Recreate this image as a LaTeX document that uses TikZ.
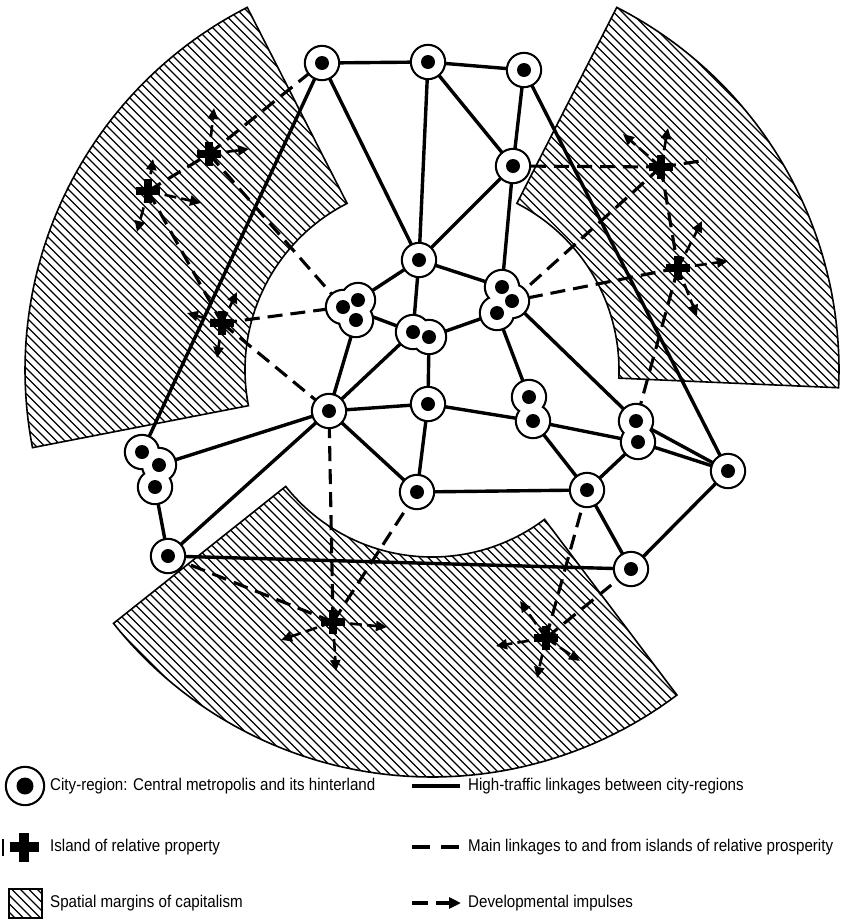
\documentclass[tikz,border=0pt]{standalone}
\usepackage{fontspec}
\setmainfont{Liberation Sans}[FakeStretch=0.89]
\usetikzlibrary{arrows.meta}
\begin{document}
\begin{tikzpicture}[x=1pt,y=-1pt,
  solidlink/.style={line width=3.4pt},
  dashlink/.style={line width=3.1pt,dash pattern=on 15pt off 8pt},
  impulse/.style={line width=2.6pt,dash pattern=on 12pt off 5pt,-{Triangle[length=11pt,width=10pt]}},
  rim/.style={line width=1.6pt},
  hatchline/.style={line width=1.1pt},
  cityring/.style={line width=4.4pt},
  legtext/.style={anchor=west,inner sep=0pt,font=\fontsize{17}{20}\selectfont},
  plussign/.pic={\fill (-12,-4.2) rectangle (12,4.2); \fill (-4.2,-12) rectangle (4.2,12);},
  bigplus/.pic={\fill (-14.5,-5.2) rectangle (14.5,5.2); \fill (-5.2,-14.5) rectangle (5.2,14.5);}
]
\fill[white] (0,0) rectangle (841,919);
\useasboundingbox (0,0) rectangle (841,919);

% ---------- spatial margins (annular sectors) ----------
\foreach \a/\b in {117/191,-2.5/63,218.5/307}{
  \begin{scope}
    \clip plot[domain=\a:\b,samples=60] ({432+407*cos(\x)},{370-407*sin(\x)})
      -- plot[domain=\b:\a,samples=60] ({432+187*cos(\x)},{370-187*sin(\x)}) -- cycle;
    \foreach \c in {-920,-911.5,...,850}
      \draw[hatchline] (\c,0) -- ({\c+919},919);
  \end{scope}
  \draw[rim,line join=miter] plot[domain=\a:\b,samples=60] ({432+407*cos(\x)},{370-407*sin(\x)})
      -- plot[domain=\b:\a,samples=60] ({432+187*cos(\x)},{370-187*sin(\x)}) -- cycle;
}

% ---------- city-regions ----------
\coordinate (A) at (322,63);
\coordinate (B) at (428,62);
\coordinate (C) at (524,70);
\coordinate (D) at (513,166);
\coordinate (E) at (419,260);
\coordinate (F1) at (343,307);
\coordinate (F2) at (358,300);
\coordinate (F3) at (356,320);
\coordinate (F) at (352,309);
\coordinate (G1) at (413,332);
\coordinate (G2) at (429,337);
\coordinate (H1) at (502,287);
\coordinate (H2) at (512,301);
\coordinate (H3) at (497,313);
\coordinate (I) at (329,411);
\coordinate (J) at (428,404);
\coordinate (K1) at (529,397);
\coordinate (K2) at (533,421);
\coordinate (L) at (417,492);
\coordinate (M) at (587,490);
\coordinate (N1) at (636,421);
\coordinate (N2) at (638,442);
\coordinate (O) at (728,471);
\coordinate (P) at (631,569);
\coordinate (Q1) at (142,452);
\coordinate (Q2) at (159,465);
\coordinate (Q3) at (155,487);
\coordinate (R) at (168,556);

% ---------- islands of relative prosperity ----------
\coordinate (PL1) at (209,154);
\coordinate (PL2) at (148,191);
\coordinate (PL3) at (222,323);
\coordinate (PR1) at (661,167);
\coordinate (PR2) at (678,268);
\coordinate (PB1) at (333,622);
\coordinate (PB2) at (546,638);

% ---------- high-traffic linkages ----------
\foreach \u/\v in {A/B,B/C,A/E,B/E,B/D,C/D,C/O,D/E,D/H1,A/Q1,E/F2,E/G1,E/H1,F/G1,G2/H3,
  F3/I,G1/I,G2/J,I/J,J/K2,H3/K1,H2/N1,K2/N2,N1/O,N2/O,N2/M,K2/M,M/P,O/P,L/M,J/L,I/L,
  I/R,Q2/I,Q3/R,R/P}
  \draw[solidlink] (\u) -- (\v);

% ---------- main linkages to/from islands ----------
\coordinate (PRend) at (707,160);
\foreach \u/\v in {PL1/A,PL1/F1,PL2/PL1,PL2/PL3,PL3/F1,PL3/I,PR1/D,PR1/PRend,PR1/H2,PR1/PR2,
  PR2/H2,PR2/N1,PB1/I,PB1/L,PB1/R,PB2/M,PB2/P}
  \draw[dashlink] (\u) -- (\v);

% ---------- developmental impulses ----------
\coordinate (a1) at (214,108);
\coordinate (a2) at (249,149);
\coordinate (a3) at (153,159);
\coordinate (a4) at (201,203);
\coordinate (a5) at (137,232);
\coordinate (a6) at (237,292);
\coordinate (a7) at (187,313);
\coordinate (a8) at (217,358);
\coordinate (a9) at (623,134);
\coordinate (a10) at (668,128);
\coordinate (a11) at (702,221);
\coordinate (a12) at (728,261);
\coordinate (a13) at (697,316);
\coordinate (a14) at (387,627);
\coordinate (a15) at (281,640);
\coordinate (a16) at (336,671);
\coordinate (a17) at (520,601);
\coordinate (a18) at (496,646);
\coordinate (a19) at (580,661);
\coordinate (a20) at (537,678);
\foreach \u/\v in {PL1/a1,PL1/a2,PL2/a3,PL2/a4,PL2/a5,PL3/a6,PL3/a7,PL3/a8,PR1/a9,PR1/a10,
  PR2/a11,PR2/a12,PR2/a13,PB1/a14,PB1/a15,PB1/a16,PB2/a17,PB2/a18,PB2/a19,PB2/a20}
  \draw[impulse] (\u) -- (\v);

% ---------- city circles ----------
\def\cities{A,B,C,D,E,F1,F2,F3,G1,G2,H1,H2,H3,I,J,K1,K2,L,M,N1,N2,O,P,Q1,Q2,Q3,R}
\foreach \c in \cities \draw[cityring] (\c) circle[radius=16pt];
\foreach \c in \cities \fill[white] (\c) circle[radius=16pt];
\foreach \c in \cities \fill (\c) circle[radius=7pt];

% ---------- island symbols ----------
\foreach \p in {PL1,PL2,PL3,PR1,PR2,PB1,PB2} \pic at (\p) {plussign};

% ---------- legend ----------
\coordinate (lc) at (25,786);
\draw[line width=4.4pt] (lc) circle[radius=18pt];
\fill[white] (lc) circle[radius=18pt];
\fill (lc) circle[radius=8.5pt];
\node[legtext] (t1) at (50,786) {City-region: Central metropolis and its hinterland};

\coordinate (lp) at (24,847);
\pic at (lp) {bigplus};
\coordinate (lb1) at (3,839);
\coordinate (lb2) at (3,856);
\draw[line width=1.6pt] (lb1) -- (lb2);
\node[legtext] (t2) at (50,847) {Island of relative property};

\begin{scope}
  \clip (9,889) rectangle (42,918);
  \foreach \c in {-40,-31.5,...,50} \draw[hatchline] (\c,880) -- ({\c+40},920);
\end{scope}
\draw[rim] (9,889) rectangle (42,918);
\node[legtext] (t3) at (50,903) {Spatial margins of capitalism};

\coordinate (s1) at (412,786);
\coordinate (s2) at (460,786);
\draw[solidlink] (s1) -- (s2);
\node[legtext] (t4) at (468,786) {High-traffic linkages between city-regions};

\coordinate (d1) at (412,847);
\coordinate (d2) at (459,847);
\draw[line width=3.1pt,dash pattern=on 18pt off 11pt] (d1) -- (d2);
\node[legtext] (t5) at (468,847) {Main linkages to and from islands of relative prosperity};

\coordinate (i1) at (412,903);
\coordinate (i2) at (461,903);
\draw[line width=3.1pt,dash pattern=on 16pt off 8pt,-{Triangle[length=12pt,width=11pt]}] (i1) -- (i2);
\node[legtext] (t6) at (468,903) {Developmental impulses};
\end{tikzpicture}
\end{document}
